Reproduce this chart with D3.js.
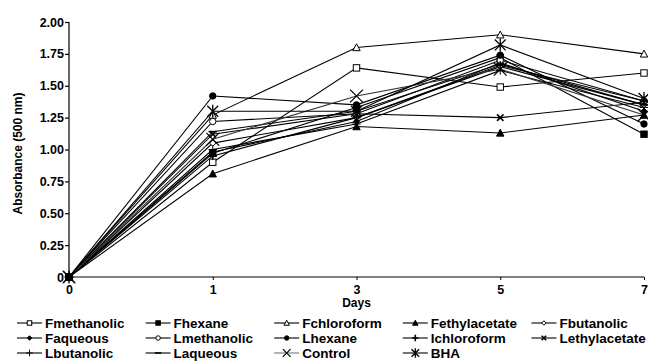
<!DOCTYPE html>
<html>
<head>
<meta charset="utf-8">
<script src="https://cdn.jsdelivr.net/npm/d3@7/dist/d3.min.js"></script>
<style>
  body { margin: 0; background: #fff; }
  text { font-family: "Liberation Sans", Arial, sans-serif; font-weight: bold; fill: #000; }
</style>
</head>
<body>
<div id="chart"></div>
<script>
// days on x axis (equally spaced categories)
var days = ["0", "1", "3", "5", "7"];
var yTicks = [0, 0.25, 0.5, 0.75, 1.0, 1.25, 1.5, 1.75, 2.0];

var seriesNames = ["Fmethanolic", "Fhexane", "Fchloroform", "Fethylacetate", "Fbutanolic",
                   "Faqueous", "Lmethanolic", "Lhexane", "Ichloroform", "Lethylacetate",
                   "Lbutanolic", "Laqueous", "Control", "BHA"];
var markers = ["squareOpen", "squareFilled", "triangleOpen", "triangleFilled", "diamondOpen",
               "diamondFilled", "circleOpen", "circleFilled", "plus", "xSmall",
               "plusThin", "dash", "xBig", "asterisk"];

var fmethanolic   = [0, 0.90, 1.64, 1.49, 1.60];
var fhexane       = [0, 0.97, 1.33, 1.72, 1.12];
var fchloroform   = [0, 1.27, 1.80, 1.90, 1.75];
var fethylacetate = [0, 0.81, 1.18, 1.13, 1.27];
var fbutanolic    = [0, 1.05, 1.25, 1.65, 1.35];
var faqueous      = [0, 0.98, 1.22, 1.68, 1.30];
var lmethanolic   = [0, 1.22, 1.28, 1.70, 1.38];
var lhexane       = [0, 1.42, 1.35, 1.74, 1.20];
var ichloroform   = [0, 0.95, 1.25, 1.66, 1.38];
var lethylacetate = [0, 1.12, 1.28, 1.25, 1.37];
var lbutanolic    = [0, 1.00, 1.20, 1.62, 1.33];
var laqueous      = [0, 1.14, 1.30, 1.67, 1.35];
var control       = [0, 1.08, 1.42, 1.63, 1.27];
var bha           = [0, 1.30, 1.30, 1.82, 1.40];

var seriesValues = [fmethanolic, fhexane, fchloroform, fethylacetate, fbutanolic,
                    faqueous, lmethanolic, lhexane, ichloroform, lethylacetate,
                    lbutanolic, laqueous, control, bha];

var margin = { left: 69, right: 4, top: 22, bottom: 85 };
var W = 648, H = 362;
var width = W - margin.left - margin.right;
var height = H - margin.top - margin.bottom;

var svg = d3.select("#chart").append("svg")
    .attr("width", W)
    .attr("height", H);

var g = svg.append("g")
    .attr("transform", "translate(" + margin.left + "," + margin.top + ")");

var x = d3.scalePoint().domain(days).range([0, 575]);
var y = d3.scaleLinear().domain([0, 2]).range([height, 0]);

// axes
var yAxis = g.append("g")
    .call(d3.axisLeft(y).tickValues(yTicks).tickSize(4)
        .tickFormat(function(d){ return d === 0 ? "0" : d3.format(".2f")(d); }));
yAxis.selectAll("text").style("font-size", "12.5px").attr("x", -5);
yAxis.select(".domain").attr("d", "M0," + height + "V0");

var xAxis = g.append("g")
    .attr("transform", "translate(0," + height + ")")
    .call(d3.axisBottom(x).tickSize(3).tickSizeOuter(0));
xAxis.selectAll("text").style("font-size", "12.5px").attr("y", 8);
xAxis.select(".domain").attr("d", "M0,0H" + width);
xAxis.selectAll("line, path").attr("stroke", "#000");
yAxis.selectAll("line, path").attr("stroke", "#000").attr("stroke-width", 1.2);

g.append("text")
    .attr("transform", "translate(-47," + (height / 2 + 4) + ") rotate(-90)")
    .attr("text-anchor", "middle")
    .style("font-size", "12px")
    .text("Absorbance (500 nm)");

g.append("text")
    .attr("x", x("3"))
    .attr("y", height + 30)
    .attr("text-anchor", "middle")
    .style("font-size", "12px")
    .text("Days");

// marker drawing
function drawMarker(sel, type, s) {
    s = s || 1;
    var r = 3.2 * s;
    switch (type) {
    case "squareOpen":
    case "squareFilled":
        sel.append("rect").attr("x", -r).attr("y", -r).attr("width", 2 * r).attr("height", 2 * r)
            .attr("fill", type === "squareFilled" ? "#000" : "#fff").attr("stroke", "#000");
        break;
    case "triangleOpen":
    case "triangleFilled":
        sel.append("path").attr("d", "M0," + (-r - 0.5) + "L" + (r + 0.5) + "," + r + "L" + (-r - 0.5) + "," + r + "Z")
            .attr("fill", type === "triangleFilled" ? "#000" : "#fff").attr("stroke", "#000");
        break;
    case "diamondOpen":
    case "diamondFilled":
        sel.append("path").attr("d", "M0," + (-r) + "L" + r + ",0L0," + r + "L" + (-r) + ",0Z")
            .attr("fill", type === "diamondFilled" ? "#000" : "#fff").attr("stroke", "#000");
        break;
    case "circleOpen":
    case "circleFilled":
        sel.append("circle").attr("r", r)
            .attr("fill", type === "circleFilled" ? "#000" : "#fff").attr("stroke", "#000");
        break;
    case "plus":
    case "plusThin":
        sel.append("path").attr("d", "M" + (-r - 1) + ",0H" + (r + 1) + "M0," + (-r - 1) + "V" + (r + 1))
            .attr("stroke", "#000").attr("stroke-width", type === "plus" ? 1.6 : 1);
        break;
    case "xSmall":
        sel.append("path").attr("d", "M" + (-r) + "," + (-r) + "L" + r + "," + r + "M" + r + "," + (-r) + "L" + (-r) + "," + r)
            .attr("stroke", "#000").attr("stroke-width", 1.6);
        break;
    case "xBig":
        var q = r * 2;
        sel.append("path").attr("d", "M" + (-q) + "," + (-q) + "L" + q + "," + q + "M" + q + "," + (-q) + "L" + (-q) + "," + q)
            .attr("stroke", "#000").attr("stroke-width", 1.2);
        break;
    case "dash":
        sel.append("path").attr("d", "M" + (-r - 1) + ",0H" + (r + 1))
            .attr("stroke", "#000").attr("stroke-width", 1.6);
        break;
    case "asterisk":
        var a = r * 1.7;
        sel.append("path").attr("d", "M" + (-a) + "," + (-a) + "L" + a + "," + a + "M" + a + "," + (-a) + "L" + (-a) + "," + a +
            "M0," + (-a - 1) + "V" + (a + 1))
            .attr("stroke", "#000").attr("stroke-width", 1.3);
        break;
    }
}

var line = d3.line()
    .x(function(d, i){ return x(days[i]); })
    .y(function(d){ return y(d); });

seriesValues.forEach(function(vals, k) {
    g.append("path")
        .datum(vals)
        .attr("d", line)
        .attr("fill", "none")
        .attr("stroke", markers[k] === "xBig" ? "#333" : "#000")
        .attr("stroke-width", 1.1);
});

seriesValues.forEach(function(vals, k) {
    vals.forEach(function(v, i) {
        var m = g.append("g").attr("transform", "translate(" + x(days[i]) + "," + y(v) + ")");
        drawMarker(m, markers[k]);
    });
});

// legend: 5 columns x 3 rows
var legend = svg.append("g").attr("transform", "translate(17,323)");
seriesNames.forEach(function(name, k) {
    var col = k % 5, row = Math.floor(k / 5);
    var item = legend.append("g")
        .attr("transform", "translate(" + (col * 128.6) + "," + (row * 15) + ")");
    item.append("line").attr("x1", 0).attr("x2", 25).attr("y1", 0).attr("y2", 0)
        .attr("stroke", markers[k] === "xBig" ? "#777" : "#000").attr("stroke-width", 1.1);
    var m = item.append("g").attr("transform", "translate(12.5,0)");
    drawMarker(m, markers[k], markers[k] === "xBig" ? 0.6 : 0.7);
    item.append("text")
        .attr("x", 28)
        .attr("y", 4.8)
        .style("font-size", "13.5px")
        .text(name);
});
</script>
</body>
</html>
